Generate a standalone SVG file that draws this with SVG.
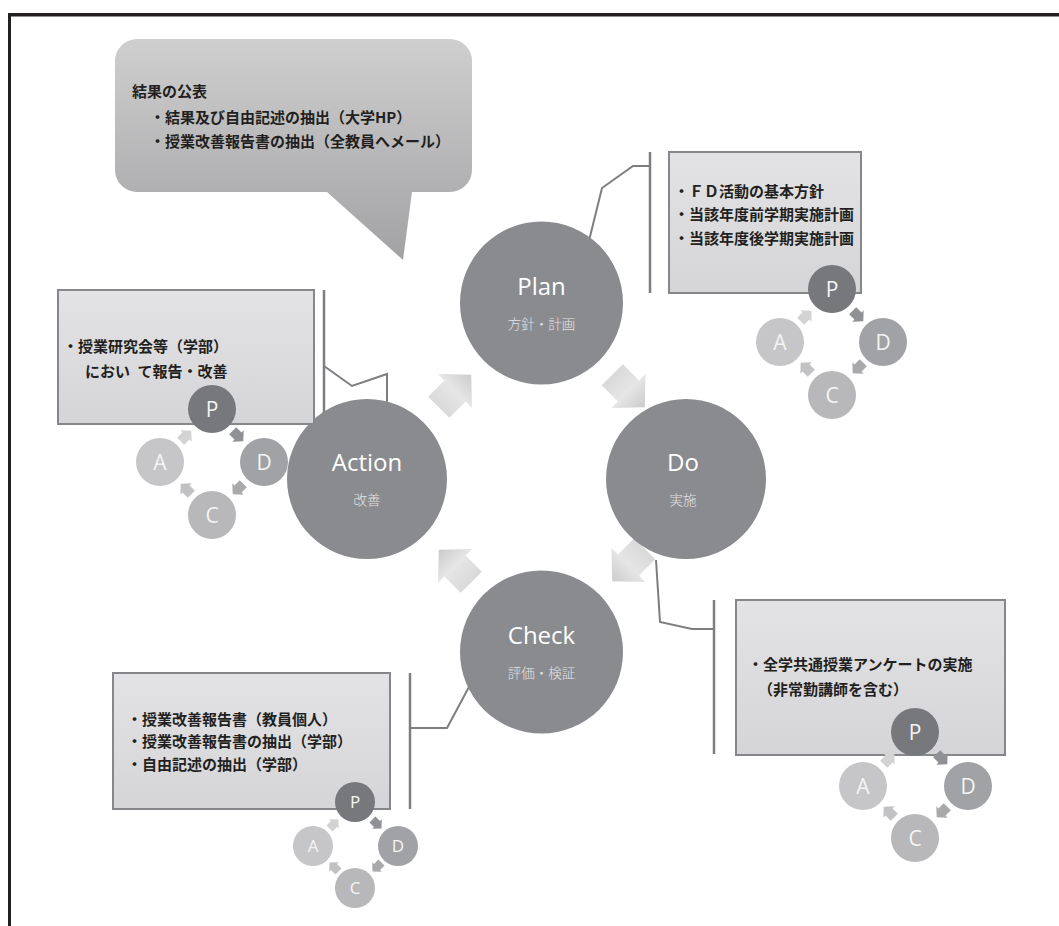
<svg xmlns="http://www.w3.org/2000/svg" xmlns:xlink="http://www.w3.org/1999/xlink" width="1059" height="926" viewBox="0 0 1059 926">
  <style>
    .frame { stroke: #231f20; fill: none; }
    .big { fill: #8a8b8f; }
    .title { font-family: "Open Sans", "Noto Sans", sans-serif; font-size: 24px; fill: #ffffff; text-anchor: middle; }
    .sub { font-family: "Noto Sans CJK JP", sans-serif; font-size: 13.5px; fill: #e4e4e6; text-anchor: middle; font-weight: 300; }
    .box { fill: url(#boxGrad); stroke: #86878a; stroke-width: 2; }
    .txt { font-family: "Noto Sans CJK JP", sans-serif; font-size: 15px; font-weight: 700; fill: #231f20; }
    .bar { stroke: #7d7e82; stroke-width: 2.5; fill: none; }
    .lead { stroke: #7d7e82; stroke-width: 2; fill: none; }
    .mp { fill: #77787c; }
    .md { fill: #a1a2a5; }
    .mc { fill: #b8b8ba; }
    .ma { fill: #c6c6c8; }
    .ml { font-family: "Open Sans", "Noto Sans", sans-serif; fill: #f4f4f4; text-anchor: middle; }
    .aAP { fill: #d3d3d4; }
    .aPD { fill: #909194; }
    .aDC { fill: #a9a9ac; }
    .aCA { fill: #c2c2c4; }
  </style>
  <defs>
    <linearGradient id="bubbleGrad" x1="0" y1="0" x2="0" y2="1">
      <stop offset="0" stop-color="#cfcfd0"/>
      <stop offset="1" stop-color="#a2a2a4"/>
    </linearGradient>
    <linearGradient id="boxGrad" x1="0" y1="0" x2="0" y2="1">
      <stop offset="0" stop-color="#e3e3e5"/>
      <stop offset="1" stop-color="#d5d5d7"/>
    </linearGradient>
    <linearGradient id="arrowGrad" x1="0" y1="0" x2="1" y2="0">
      <stop offset="0" stop-color="#d9d9d9"/>
      <stop offset="0.5" stop-color="#e6e6e6"/>
      <stop offset="1" stop-color="#cbcbcb"/>
    </linearGradient>
    <!-- block arrow pointing along +x, centred on the origin -->
    <path id="bigArrow" d="M23,0 L0,-24 L0,-15 L-23,-15 L-23,15 L0,15 L0,24 Z" fill="url(#arrowGrad)"/>
    <path id="miniArrow" d="M7.5,0 L0,-8 L0,-5 L-7.5,-5 L-7.5,5 L0,5 L0,8 Z"/>
  </defs>

  <!-- page frame -->
  <line class="frame" x1="8" y1="14.75" x2="1059" y2="14.75" stroke-width="3.5"/>
  <line class="frame" x1="9.5" y1="13" x2="9.5" y2="926" stroke-width="3"/>

  <!-- callout: publication of results -->
  <g id="callout">
    <path d="M137,39 H450 A22,22 0 0 1 472,61 V170 A22,22 0 0 1 450,192 H412 L403,260 L327,192 H137 A22,22 0 0 1 115,170 V61 A22,22 0 0 1 137,39 Z" fill="url(#bubbleGrad)"/>
    <text class="txt" x="132" y="97" font-weight="600">結果の公表</text>
    <text class="txt" x="150" y="123" font-weight="600">・結果及び自由記述の抽出（大学HP）</text>
    <text class="txt" x="150" y="147" font-weight="600">・授業改善報告書の抽出（全教員へメール）</text>
  </g>

  <!-- leader lines from cycle stages to their notes -->
  <g id="connectors">
    <line class="bar" x1="650" y1="152" x2="650" y2="293"/>
    <polyline class="lead" points="650,166 633,166 602,188 583,265"/>
    <line class="bar" x1="324" y1="290" x2="324" y2="424"/>
    <polyline class="lead" points="324,366 352,386 387,374 387,418"/>
    <line class="bar" x1="714" y1="600" x2="714" y2="754"/>
    <polyline class="lead" points="656,560 660,622 692,629 714,629"/>
    <line class="bar" x1="410" y1="673" x2="410" y2="809"/>
    <polyline class="lead" points="410,728 447,728 478,670 508,658"/>
  </g>

  <!-- cycle arrows -->
  <g id="cycle-arrows">
    <use xlink:href="#bigArrow" transform="translate(628.5,391) rotate(45)"/>
    <use xlink:href="#bigArrow" transform="translate(628.5,565) rotate(135)"/>
    <use xlink:href="#bigArrow" transform="translate(455,566) rotate(-135)"/>
    <use xlink:href="#bigArrow" transform="translate(455,391) rotate(-45)"/>
  </g>

  <!-- stage: Plan -->
  <g id="plan">
    <circle class="big" cx="541.5" cy="303" r="81.5"/>
    <text class="title" x="541.5" y="295">Plan</text>
    <text class="sub" x="541.5" y="329">方針・計画</text>
  </g>

  <!-- stage: Do -->
  <g id="do">
    <circle class="big" cx="686" cy="479" r="80"/>
    <text class="title" x="683" y="471">Do</text>
    <text class="sub" x="683" y="505">実施</text>
  </g>

  <!-- stage: Check -->
  <g id="check">
    <circle class="big" cx="541.5" cy="652" r="81.5"/>
    <text class="title" x="541.5" y="644">Check</text>
    <text class="sub" x="541.5" y="678">評価・検証</text>
  </g>

  <!-- stage: Action -->
  <g id="action">
    <circle class="big" cx="367" cy="479" r="80"/>
    <text class="title" x="367" y="471">Action</text>
    <text class="sub" x="367" y="505">改善</text>
  </g>

  <!-- note: Plan -->
  <g id="plan-note">
    <rect class="box" x="669" y="152" width="192" height="141"/>
    <text class="txt" x="674" y="197" font-size="15.4" font-weight="800">・ＦＤ活動の基本方針</text>
    <text class="txt" x="674" y="220" font-size="15.4" font-weight="800">・当該年度前学期実施計画</text>
    <text class="txt" x="674" y="244" font-size="15.4" font-weight="800">・当該年度後学期実施計画</text>
  </g>
  <g id="plan-mini">
    <use xlink:href="#miniArrow" class="aAP" transform="translate(806,316) rotate(-45)"/>
    <use xlink:href="#miniArrow" class="aPD" transform="translate(858,316) rotate(45)"/>
    <use xlink:href="#miniArrow" class="aDC" transform="translate(858,368) rotate(135)"/>
    <use xlink:href="#miniArrow" class="aCA" transform="translate(806,368) rotate(-135)"/>
    <circle class="mp" cx="832" cy="289" r="24"/>
    <circle class="md" cx="883" cy="342" r="24"/>
    <circle class="mc" cx="832" cy="395" r="24"/>
    <circle class="ma" cx="780" cy="342" r="24"/>
    <text class="ml" x="832" y="297" font-size="21">P</text>
    <text class="ml" x="883" y="350" font-size="21">D</text>
    <text class="ml" x="832" y="403" font-size="21">C</text>
    <text class="ml" x="780" y="350" font-size="21">A</text>
  </g>

  <!-- note: Action -->
  <g id="action-note">
    <rect class="box" x="58" y="290" width="256" height="134"/>
    <text class="txt" x="63" y="352">・授業研究会等（学部）</text>
    <text class="txt" x="85" y="377">におい&#x2002;て報告・改善</text>
  </g>
  <g id="action-mini">
    <use xlink:href="#miniArrow" class="aAP" transform="translate(186,436) rotate(-45)"/>
    <use xlink:href="#miniArrow" class="aPD" transform="translate(238,436) rotate(45)"/>
    <use xlink:href="#miniArrow" class="aDC" transform="translate(238,489) rotate(135)"/>
    <use xlink:href="#miniArrow" class="aCA" transform="translate(186,489) rotate(-135)"/>
    <circle class="mp" cx="212" cy="409" r="24"/>
    <circle class="md" cx="264" cy="462" r="24"/>
    <circle class="mc" cx="212" cy="515" r="24"/>
    <circle class="ma" cx="160" cy="462" r="24"/>
    <text class="ml" x="212" y="417" font-size="21">P</text>
    <text class="ml" x="264" y="470" font-size="21">D</text>
    <text class="ml" x="212" y="523" font-size="21">C</text>
    <text class="ml" x="160" y="470" font-size="21">A</text>
  </g>

  <!-- note: Do -->
  <g id="do-note">
    <rect class="box" x="736" y="600" width="269" height="155"/>
    <text class="txt" x="748" y="670">・全学共通授業アンケートの実施</text>
    <text class="txt" x="758" y="695">（非常勤講師を含む）</text>
  </g>
  <g id="do-mini">
    <use xlink:href="#miniArrow" class="aAP" transform="translate(889,759) rotate(-45)"/>
    <use xlink:href="#miniArrow" class="aPD" transform="translate(942,759) rotate(45)"/>
    <use xlink:href="#miniArrow" class="aDC" transform="translate(942,812) rotate(135)"/>
    <use xlink:href="#miniArrow" class="aCA" transform="translate(889,812) rotate(-135)"/>
    <circle class="mp" cx="915" cy="732" r="24"/>
    <circle class="md" cx="968" cy="786" r="24"/>
    <circle class="mc" cx="915" cy="838" r="24"/>
    <circle class="ma" cx="863" cy="786" r="24"/>
    <text class="ml" x="915" y="740" font-size="21">P</text>
    <text class="ml" x="968" y="794" font-size="21">D</text>
    <text class="ml" x="915" y="846" font-size="21">C</text>
    <text class="ml" x="863" y="794" font-size="21">A</text>
  </g>

  <!-- note: Check -->
  <g id="check-note">
    <rect class="box" x="113" y="673" width="277" height="136"/>
    <text class="txt" x="127" y="725">・授業改善報告書（教員個人）</text>
    <text class="txt" x="127" y="747">・授業改善報告書の抽出（学部）</text>
    <text class="txt" x="127" y="770">・自由記述の抽出（学部）</text>
  </g>
  <g id="check-mini">
    <use xlink:href="#miniArrow" class="aAP" transform="translate(334,824) rotate(-45) scale(0.85)"/>
    <use xlink:href="#miniArrow" class="aPD" transform="translate(377,824) rotate(45) scale(0.85)"/>
    <use xlink:href="#miniArrow" class="aDC" transform="translate(377,867) rotate(135) scale(0.85)"/>
    <use xlink:href="#miniArrow" class="aCA" transform="translate(334,867) rotate(-135) scale(0.85)"/>
    <circle class="mp" cx="355" cy="802" r="20"/>
    <circle class="md" cx="398" cy="846" r="20"/>
    <circle class="mc" cx="355" cy="888" r="20"/>
    <circle class="ma" cx="313" cy="846" r="20"/>
    <text class="ml" x="355" y="808" font-size="17">P</text>
    <text class="ml" x="398" y="852" font-size="17">D</text>
    <text class="ml" x="355" y="894" font-size="17">C</text>
    <text class="ml" x="313" y="852" font-size="17">A</text>
  </g>
</svg>
